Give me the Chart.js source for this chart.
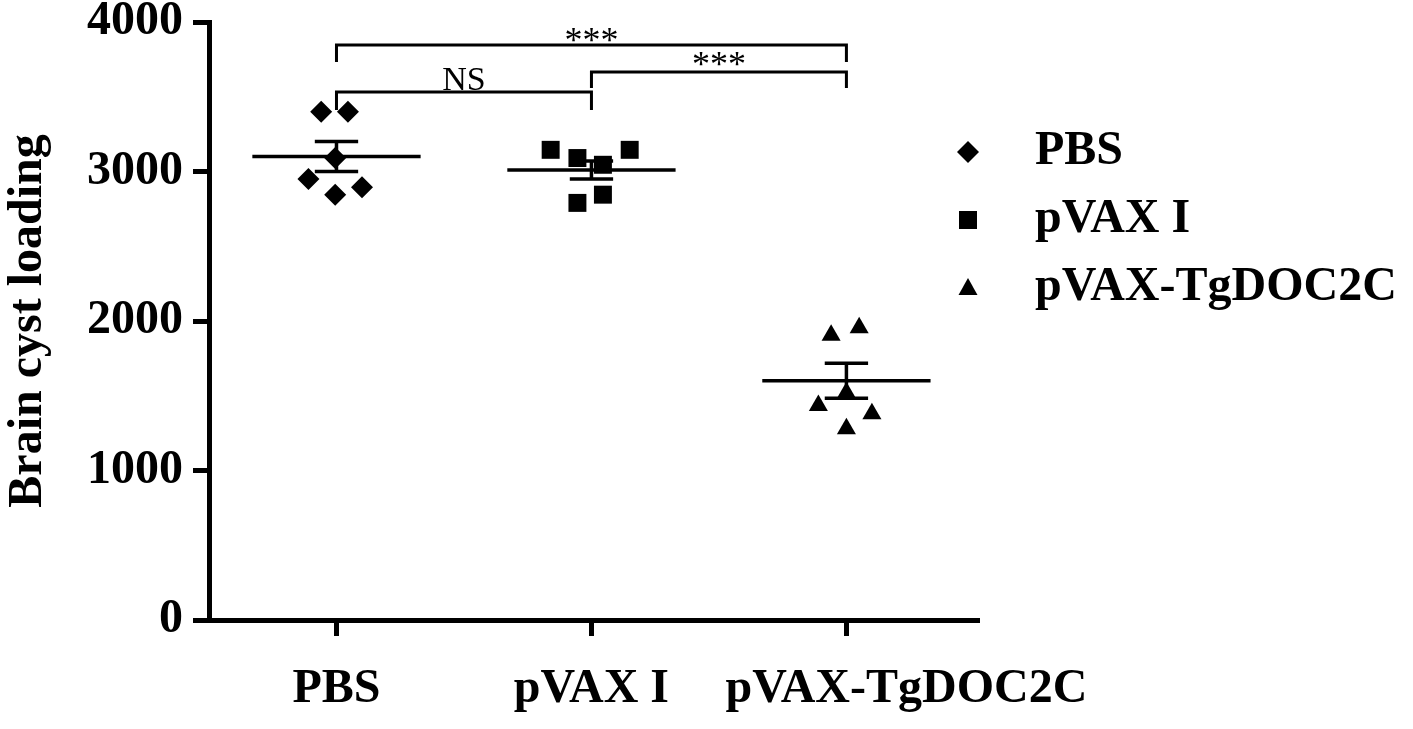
<!DOCTYPE html>
<html>
<head>
<meta charset="utf-8">
<script src="https://cdn.jsdelivr.net/npm/chart.js@4.4.1/dist/chart.umd.min.js"></script>
<style>
  html, body { margin: 0; padding: 0; background: #fff; }
  #wrap { width: 1413px; height: 729px; position: relative; }
</style>
</head>
<body>
<div id="wrap"><canvas id="cystChart"></canvas></div>
<script>
//groups on the x axis
const groups = ['PBS', 'pVAX I', 'pVAX-TgDOC2C'];
const xTickLabels = ['PBS', 'pVAX I', '          pVAX-TgDOC2C'];
const yTicks = [0, 1000, 2000, 3000, 4000];

//brain cyst counts per mouse
const pbsValues = [3400, 3400, 3090, 2950, 2845, 2895];
const pvaxValues = [3145, 3090, 3045, 3145, 2790, 2845];
const tgdocValues = [1905, 1955, 1520, 1435, 1380, 1280];

//small horizontal spread of the dots around each group
const pbsJitter = [-0.06, 0.045, -0.005, -0.11, -0.005, 0.1];
const pvaxJitter = [-0.16, -0.055, 0.045, 0.15, -0.055, 0.045];
const tgdocJitter = [-0.06, 0.05, 0, -0.11, 0.1, 0];

//mean and SEM of each group
const groupMeans = [3100, 3010, 1600];
const groupSems = [100, 60, 117];

//significance brackets
const bracketFrom = [1, 1, 2];
const bracketTo = [3, 2, 3];
const bracketTop = [3846, 3532, 3666];
const bracketLegEnd = [3732, 3411, 3559];
const bracketText = ['***', 'NS', '***'];
const bracketTextY = [3800, 3548, 3642];

const markerStyles = ['rectRot', 'rect', 'triangle'];
const markerSizes = [11, 12.7, 11];
const serif = "'Liberation Serif', 'Times New Roman', serif";

Chart.defaults.font.family = serif;
Chart.defaults.color = '#000';

function pointsFor(g, values, jitter) {
    return values.map((v, i) => ({x: g + 1 + jitter[i], y: v}));
}

function lineSet(points, width) {
    return {
        data: points,
        showLine: true,
        borderColor: '#000',
        borderWidth: width,
        pointRadius: 0,
        borderJoinStyle: 'miter',
        fill: false
    };
}

let datasets = [];
let allValues = [pbsValues, pvaxValues, tgdocValues];
let allJitter = [pbsJitter, pvaxJitter, tgdocJitter];

//mean line and error bars
groups.forEach((name, g) => {
    let c = g + 1, m = groupMeans[g], s = groupSems[g];
    datasets.push(lineSet([{x: c - 0.33, y: m}, {x: c + 0.33, y: m}], 3.5));
    datasets.push(lineSet([{x: c, y: m - s}, {x: c, y: m + s}], 3.5));
    datasets.push(lineSet([{x: c - 0.085, y: m + s}, {x: c + 0.085, y: m + s}], 3.5));
    datasets.push(lineSet([{x: c - 0.085, y: m - s}, {x: c + 0.085, y: m - s}], 3.5));
});

//brackets
bracketFrom.forEach((a, i) => {
    let b = bracketTo[i];
    datasets.push(lineSet([
        {x: a, y: bracketLegEnd[i]}, {x: a, y: bracketTop[i]},
        {x: b, y: bracketTop[i]}, {x: b, y: bracketLegEnd[i]}
    ], 3));
});

//the dots
groups.forEach((name, g) => {
    datasets.push({
        label: name,
        data: pointsFor(g, allValues[g], allJitter[g]),
        pointStyle: markerStyles[g],
        pointRadius: markerSizes[g],
        backgroundColor: '#000',
        borderColor: '#000',
        borderWidth: 0,
        showLine: false
    });
});

//draw the star labels and the legend
const annotations = {
    id: 'annotations',
    afterDatasetsDraw(chart) {
        const {ctx, scales: {x, y}} = chart;
        ctx.save();
        ctx.fillStyle = '#000';
        ctx.textAlign = 'center';
        ctx.textBaseline = 'alphabetic';
        bracketText.forEach((t, i) => {
            ctx.font = (t === 'NS' ? '34px ' : '36px ') + serif;
            let cx = x.getPixelForValue((bracketFrom[i] + bracketTo[i]) / 2);
            ctx.fillText(t, cx, y.getPixelForValue(bracketTextY[i]));
        });

        //legend
        let lx = 968, rows = [152, 220, 288];
        ctx.textAlign = 'left';
        ctx.textBaseline = 'middle';
        ctx.font = 'bold 48px ' + serif;
        rows.forEach((ry, g) => {
            ctx.beginPath();
            if (g === 0) {
                ctx.moveTo(lx, ry - 11); ctx.lineTo(lx + 11, ry);
                ctx.lineTo(lx, ry + 11); ctx.lineTo(lx - 11, ry);
            } else if (g === 1) {
                ctx.rect(lx - 9, ry - 9, 18, 18);
            } else {
                ctx.moveTo(lx, ry - 10); ctx.lineTo(lx + 9.5, ry + 7);
                ctx.lineTo(lx - 9.5, ry + 7);
            }
            ctx.closePath();
            ctx.fill();
            ctx.fillText(groups[g], 1035, ry);
        });
        ctx.restore();
    }
};

const tickGrid = {
    display: true,
    drawOnChartArea: false,
    drawTicks: true,
    tickLength: 16,
    tickWidth: 5,
    tickColor: '#000'
};

new Chart(document.getElementById('cystChart'), {
    type: 'scatter',
    data: {datasets: datasets},
    options: {
        responsive: true,
        maintainAspectRatio: false,
        animation: false,
        events: [],
        layout: {padding: {left: 0, right: 434, top: 22, bottom: 0}},
        plugins: {legend: {display: false}, tooltip: {enabled: false}},
        scales: {
            x: {
                type: 'linear',
                min: 0.5,
                max: 3.52,
                afterBuildTicks: s => { s.ticks = groups.map((n, i) => ({value: i + 1})); },
                afterFit: s => { s.height = 109; },
                ticks: {
                    autoSkip: false, maxRotation: 0, minRotation: 0,
                    padding: 25, color: '#000',
                    font: {size: 48, weight: 'bold'},
                    callback: v => xTickLabels[Math.round(v) - 1]
                },
                grid: tickGrid,
                border: {display: true, color: '#000', width: 5}
            },
            y: {
                min: 0,
                max: 4000,
                afterBuildTicks: s => { s.ticks = yTicks.map(v => ({value: v})); },
                afterFit: s => { s.width = 209; },
                ticks: {
                    padding: 10, color: '#000',
                    font: {size: 48, weight: 'bold', lineHeight: 0.4},
                    callback: v => String(v)
                },
                grid: tickGrid,
                border: {display: true, color: '#000', width: 5},
                title: {
                    display: true, text: 'Brain cyst loading', color: '#000',
                    font: {size: 48, weight: 'bold'}, padding: 0
                }
            }
        }
    },
    plugins: [annotations]
});
</script>
</body>
</html>
